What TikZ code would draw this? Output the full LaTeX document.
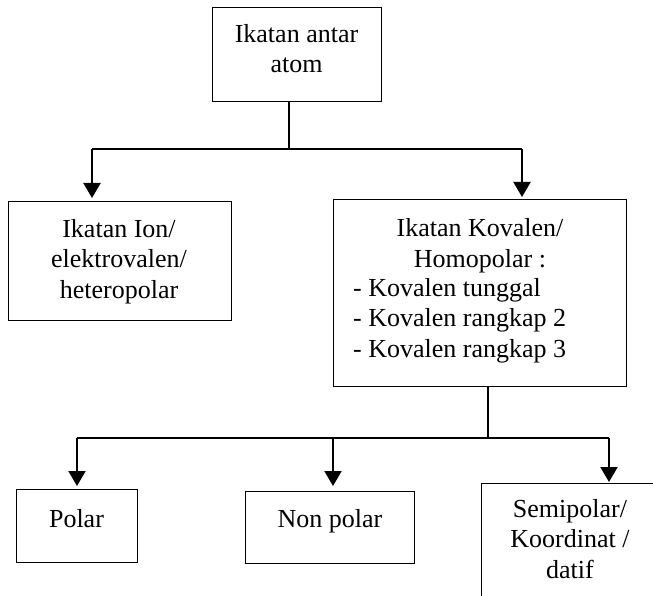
\documentclass[tikz,border=0pt]{standalone}
\usepackage{fontspec}
\setmainfont{Liberation Serif}
\usetikzlibrary{arrows.meta}
\begin{document}
\begin{tikzpicture}[x=1pt,y=-1pt,
  box/.style={draw,line width=1.3pt,inner sep=0pt,anchor=north west},
  lbl/.style={font=\fontsize{26}{30.3}\selectfont,inner sep=0pt,anchor=base,align=center},
  conn/.style={line width=1.3pt},
  arr/.style={line width=2pt,-{Triangle[width=17pt,length=15pt]}}]
\useasboundingbox (0,0) rectangle (653,596);
\clip (0,0) rectangle (653,596);
% boxes
\node[box,minimum width=169pt,minimum height=94pt] (top) at (212,7) {};
\node[box,minimum width=223pt,minimum height=119pt] (ion) at (8,201) {};
\node[box,minimum width=293pt,minimum height=187pt] (kov) at (333,199) {};
\node[box,minimum width=121pt,minimum height=73pt] (polar) at (16,489) {};
\node[box,minimum width=169pt,minimum height=72pt] (nonpolar) at (245,491) {};
\node[box,minimum width=180pt,minimum height=140pt] (semi) at (481,483) {};
% texts (anchor = baseline of the last line)
\node[lbl] (topT) at (296.5,73) {Ikatan antar\\atom};
\node[lbl] (ionT) at (119,298) {Ikatan Ion/\\elektrovalen/\\heteropolar};
\node[lbl] (kovT) at (480,267) {Ikatan Kovalen/\\Homopolar :};
\node[lbl,align=left,anchor=base west] (kovL) at (353,357) {- Kovalen tunggal\\- Kovalen rangkap 2\\- Kovalen rangkap 3};
\node[lbl] (polarT) at (76.5,527) {Polar};
\node[lbl] (nonpolarT) at (330,527) {Non polar};
\node[lbl] (semiT) at (570,578) {Semipolar/\\Koordinat /\\datif};
% connectors, upper level
\coordinate (j0) at (289,149);
\coordinate (hl) at (92,149);
\coordinate (hr) at (522,149);
\draw[conn] (top.south -| j0) -- (j0);
\draw[conn] (hl) -- (hr);
\draw[arr,shorten >=3pt] (hl) -- (hl |- ion.north);
\draw[arr,shorten >=2pt] (hr) -- (hr |- kov.north);
% connectors, lower level
\coordinate (j1) at (488,438);
\coordinate (bl) at (77,438);
\coordinate (bm) at (333,438);
\coordinate (br) at (609,438);
\draw[conn] (kov.south -| j1) -- (j1);
\draw[conn] (bl) -- (br);
\draw[arr,shorten >=3pt] (bl) -- (bl |- polar.north);
\draw[arr,shorten >=5pt] (bm) -- (bm |- nonpolar.north);
\draw[arr,shorten >=1pt] (br) -- (br |- semi.north);
\end{tikzpicture}
\end{document}
